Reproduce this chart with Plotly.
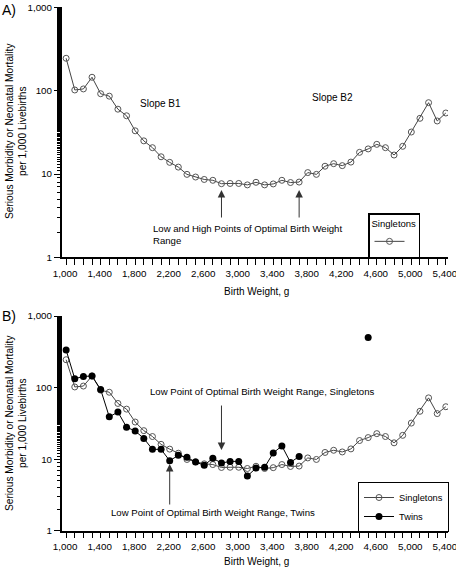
import plotly.graph_objects as go

# ---- data ----
weights = list(range(1000, 5500, 100))
singletons = [245, 102, 105, 145, 92, 86, 60, 50, 33, 25,
              20.7, 16.1, 13.8, 12.1, 9.9, 9.2, 8.6, 8.4, 7.65, 7.7,
              7.7, 7.4, 7.95, 7.4, 7.6, 8.4, 7.9, 8.0, 10.4, 9.9,
              12.4, 13.3, 12.6, 13.9, 18.2, 20.0, 22.7, 20.7, 16.9, 21.5,
              31.9, 46.6, 71.8, 43.3, 54]
twin_weights = list(range(1000, 3800, 100)) + list(range(3800, 4500, 100)) + [4500]
twins = [334, 133, 143, 145, 94, 39, 45.5, 28, 24.7, 19.5,
         13.7, 13.7, 9.5, 11.3, 10.6, 9.1, 8.2, 10.3, 8.8, 9.3,
         9.3, 5.8, 7.5, 7.7, 12.2, 15.3, 9.0, 10.9] + [None] * 7 + [500]

xtick_vals = list(range(1000, 5401, 400))
xtick_text = [f"{v:,}" for v in xtick_vals]
ytick_vals = [1, 10, 100, 1000]
ytick_text = ["1", "10", "100", "1,000"]

W, H = 456, 568
FONT = "Liberation Sans, Arial, sans-serif"


def px(x):
    return x / W


def py(y):
    return 1 - y / H


fig = go.Figure()

sing_marker = dict(symbol="circle-open", size=6, color="#555555", line=dict(width=1, color="#555555"))
sing_line = dict(color="#444444", width=1)

fig.add_trace(go.Scatter(x=weights, y=singletons, mode="lines+markers", name="",
                         marker=sing_marker, line=sing_line, xaxis="x", yaxis="y",
                         legend="legend2"))
fig.add_trace(go.Scatter(x=weights, y=singletons, mode="lines+markers", name="Singletons",
                         marker=sing_marker, line=sing_line, xaxis="x2", yaxis="y2",
                         legend="legend"))
fig.add_trace(go.Scatter(x=twin_weights, y=twins, mode="lines+markers", name="Twins",
                         marker=dict(symbol="circle", size=7, color="black"),
                         line=dict(color="black", width=1), connectgaps=False,
                         xaxis="x2", yaxis="y2", legend="legend"))

xdom = [px(62), px(448)]
xcommon = dict(range=[952, 5425], domain=xdom, showline=True, linecolor="black", linewidth=1.5,
               ticks="outside", ticklen=6, tickwidth=1, tickcolor="black", automargin=False,
               tickvals=xtick_vals, ticktext=xtick_text, showgrid=False, zeroline=False,
               ticklabeloverflow="allow", ticklabelshift=-1,
               minor=dict(dtick=100, tick0=1000, ticks="outside", ticklen=6, tickwidth=1,
                          tickcolor="black", showgrid=False),
               tickfont=dict(size=9.8, color="black", family=FONT))
ycommon = dict(type="log", range=[0, 3], showline=True, linecolor="black", linewidth=2,
               ticks="outside", ticklen=6, tickwidth=1, tickcolor="black", automargin=False,
               tickvals=ytick_vals, ticktext=ytick_text, showgrid=False, zeroline=False,
               ticklabeloverflow="allow",
               minor=dict(ticks="outside", ticklen=3, tickwidth=1, tickcolor="black",
                          showgrid=False),
               tickfont=dict(size=9.8, color="black", family=FONT))

fig.update_layout(
    width=W, height=H, margin=dict(l=0, r=0, t=0, b=0, autoexpand=False),
    plot_bgcolor="white", paper_bgcolor="white",
    font=dict(family=FONT, size=10, color="black"),
    xaxis=dict(**xcommon, anchor="y"),
    yaxis=dict(**ycommon, domain=[py(257.3), py(7.4)], anchor="x"),
    xaxis2=dict(**xcommon, anchor="y2"),
    yaxis2=dict(**ycommon, domain=[py(530.7), py(316)], anchor="x2"),
    legend=dict(x=px(358), y=py(482), xanchor="left", yanchor="top",
                bordercolor="black", borderwidth=1, bgcolor="white",
                font=dict(size=9.3), itemwidth=30, tracegroupgap=0),
    legend2=dict(x=px(368), y=py(213), xanchor="left", yanchor="top",
                 bordercolor="black", borderwidth=1.5, bgcolor="white",
                 font=dict(size=9.3), itemwidth=30,
                 title=dict(text="Singletons", side="top", font=dict(size=9.5))),
    showlegend=True,
)

ann = []
# panel labels
ann.append(dict(text="A)", x=px(0), y=py(10), xref="paper", yref="paper", xanchor="left",
                yanchor="middle", showarrow=False, font=dict(size=14)))
ann.append(dict(text="B)", x=px(0), y=py(316), xref="paper", yref="paper", xanchor="left",
                yanchor="middle", showarrow=False, font=dict(size=14)))
# y titles
ytitle = "Serious Morbidity or Neonatal Mortality<br>per 1,000 Livebirths"
for yc in (131, 423):
    ann.append(dict(text=ytitle, x=px(16), y=py(yc), xref="paper", yref="paper",
                    xanchor="center", yanchor="middle",
                    textangle=-90, showarrow=False, font=dict(size=10.2)))
# x titles
for yc in (291, 561):
    ann.append(dict(text="Birth Weight, g", x=px(256), y=py(yc), xref="paper", yref="paper",
                    xanchor="center", yanchor="middle", showarrow=False, font=dict(size=10)))
# slopes
ann.append(dict(text="Slope B1", x=px(160), y=py(103), xref="paper", yref="paper",
                xanchor="center", yanchor="middle", showarrow=False, font=dict(size=10)))
ann.append(dict(text="Slope B2", x=px(332), y=py(97), xref="paper", yref="paper",
                xanchor="center", yanchor="middle", showarrow=False, font=dict(size=10)))
# panel A arrows
for xv in (2800, 3700):
    ann.append(dict(x=xv, y=(257.3 - 190) / 83.3, xref="x", yref="y", text="", showarrow=True,
                    ax=0, ay=29, arrowhead=2, arrowsize=1.5, arrowwidth=1, arrowcolor="#333333"))
ann.append(dict(text="Low and High Points of Optimal Birth Weight<br>Range", x=px(151), y=py(221),
                xref="paper", yref="paper", xanchor="left", yanchor="top", align="left",
                showarrow=False, font=dict(size=9.6)))
# panel B arrows
ann.append(dict(x=2800, y=(530.7 - 450) / 71.6, xref="x2", yref="y2", text="", showarrow=True,
                ax=0, ay=-46, arrowhead=2, arrowsize=1.5, arrowwidth=1, arrowcolor="#333333"))
ann.append(dict(text="Low Point of Optimal Birth Weight Range, Singletons", x=px(148), y=py(391),
                xref="paper", yref="paper", xanchor="left", yanchor="middle",
                showarrow=False, font=dict(size=9.6)))
ann.append(dict(x=2200, y=(530.7 - 464) / 71.6, xref="x2", yref="y2", text="", showarrow=True,
                ax=0, ay=42, arrowhead=2, arrowsize=1.5, arrowwidth=1, arrowcolor="#333333"))
ann.append(dict(text="Low Point of Optimal Birth Weight Range, Twins", x=px(109), y=py(512),
                xref="paper", yref="paper", xanchor="left", yanchor="middle",
                showarrow=False, font=dict(size=9.6)))

fig.update_layout(annotations=ann)
fig.write_html("out.html", config={"displayModeBar": False},
               post_script="document.body.style.margin='0';")
